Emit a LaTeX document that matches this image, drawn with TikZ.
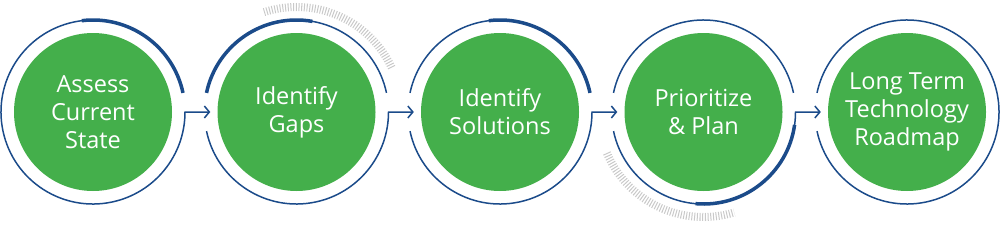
\documentclass[tikz,border=0pt]{standalone}
\usepackage{fontspec}
\setmainfont{Open Sans}
\usepackage{xcolor}
\usepackage{tikz}
\usetikzlibrary{arrows.meta, positioning}

\definecolor{stepgreen}{HTML}{44AF4B}
\definecolor{ringblue}{HTML}{1B4B8A}
\definecolor{tickgray}{HTML}{C9C9C9}

\begin{document}
\begin{tikzpicture}[x=1pt, y=1pt, node distance=203.5pt]
    \tikzstyle{stage} = [circle, fill=stepgreen, minimum size=158pt, inner sep=0pt, text=white, align=center, font=\fontsize{23.5}{28}\selectfont]
    \tikzstyle{ring} = [circle, minimum size=184pt, inner sep=0pt, outer sep=0pt]
    \tikzstyle{rim} = [draw=ringblue, line width=1.5pt]
    \tikzstyle{accent} = [draw=ringblue, line width=3.5pt]
    \tikzstyle{ticks} = [draw=tickgray, line width=8pt, dash pattern=on 1pt off 1.7pt]
    \tikzstyle{line} = [draw=ringblue, line width=1.5pt, -{Straight Barb[length=5pt, width=12pt]}]

    \useasboundingbox (0,0) rectangle (1000,226);

    \node [stage] (g1) at (93,114) {Assess\\Current\\State};
    \node [stage, right of=g1] (g2) {Identify\\Gaps};
    \node [stage, right of=g2] (g3) {Identify\\Solutions};
    \node [stage, right of=g3] (g4) {Prioritize\\\& Plan};
    \node [stage, right of=g4] (g5) {Long Term\\Technology\\Roadmap};

    \node [ring] (r1) at (g1) {};
    \node [ring] (r2) at (g2) {};
    \node [ring] (r3) at (g3) {};
    \node [ring] (r4) at (g4) {};
    \node [ring] (r5) at (g5) {};

    % gray tick bands
    \draw [ticks] (g2.center) ++(25:105) arc[start angle=25, end angle=108, radius=105];
    \draw [ticks] (g4.center) ++(203:105) arc[start angle=203, end angle=287, radius=105];

    % rings and arrows
    \path [line] (r1.12) arc[start angle=12, end angle=360, radius=92] -- ([xshift=-7pt]g2.west);
    \draw [rim] (r2.12) arc[start angle=12, end angle=168, radius=92];
    \path [line] (r2.192) arc[start angle=192, end angle=360, radius=92] -- ([xshift=-7pt]g3.west);
    \draw [rim] (r3.12) arc[start angle=12, end angle=168, radius=92];
    \path [line] (r3.192) arc[start angle=192, end angle=360, radius=92] -- ([xshift=-7pt]g4.west);
    \draw [rim] (r4.12) arc[start angle=12, end angle=168, radius=92];
    \path [line] (r4.192) arc[start angle=192, end angle=360, radius=92] -- ([xshift=-7pt]g5.west);
    \draw [rim] (r5.192) arc[start angle=192, end angle=528, radius=92];

    % accents
    \draw [accent] (r1.12) arc[start angle=12, end angle=97, radius=92];
    \draw [accent] (r2.80) arc[start angle=80, end angle=168, radius=92];
    \draw [accent] (r3.12) arc[start angle=12, end angle=97, radius=92];
    \draw [accent] (r4.265) arc[start angle=265, end angle=352, radius=92];
\end{tikzpicture}
\end{document}
